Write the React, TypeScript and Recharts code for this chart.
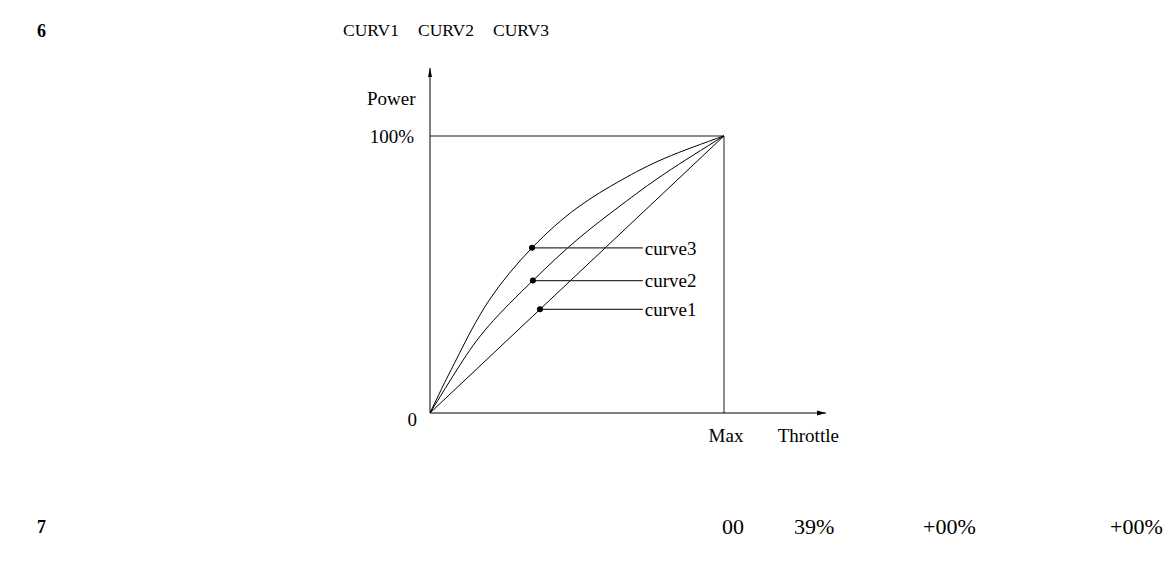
import React from 'react';
import { LineChart, Line, XAxis, YAxis, ReferenceLine, ReferenceDot } from 'recharts';

// throttle (x) vs power (y); 100 = Max / 100%
const curve1X = [0, 100];
const curve1Y = [0, 100];
const curve2X = [0, 10, 20, 35, 50, 65, 80, 100];
const curve2Y = [0, 17, 31.5, 47.8, 62.5, 75, 86.5, 100];
const curve3X = [0, 5, 10, 20, 34.7, 50, 65, 80, 100];
const curve3Y = [0, 11, 21.5, 40.5, 59.6, 74, 84, 92, 100];

// label markers on each curve
const markerNames = ['curve1', 'curve2', 'curve3'];
const markerX = [37.4, 35.0, 34.7];
const markerY = [37.4, 47.8, 59.6];
const leaderEndX = 72.4;

const xTicks = [100, 128];
const xTickLabels = ['Max', 'Throttle'];
const yTicks = [0, 100];
const yTickLabels = ['0', '100%'];

const headerTitles = ['CURV1', 'CURV2', 'CURV3'];
const footerValues = ['00', '39%', '+00%', '+00%'];

const X_MAX = 134.7;
const Y_MAX = 124.5;
const FONT = '"Liberation Serif", "Times New Roman", serif';

const toPoints = (xs: number[], ys: number[]) => xs.map((x, i) => ({ x, y: ys[i] }));

const XTick = (props: any) => {
  const { x, y, payload } = props;
  const idx = xTicks.indexOf(payload.value);
  return (
    <text x={x + 2} y={y} dy={27} textAnchor="middle" fontSize={19} fill="#000">
      {xTickLabels[idx]}
    </text>
  );
};

const YTick = (props: any) => {
  const { x, y, payload } = props;
  const idx = yTicks.indexOf(payload.value);
  return (
    <text x={x - (payload.value === 0 ? 11 : 14)} y={y} dy={payload.value === 0 ? 13 : 7} textAnchor="end" fontSize={19} fill="#000">
      {yTickLabels[idx]}
    </text>
  );
};

const ArrowRight = (props: any) => (
  <path d={`M${props.cx} ${props.cy} l-9 -2.5 l0 5 z`} fill="#000" />
);
const ArrowUp = (props: any) => (
  <path d={`M${props.cx} ${props.cy} l-2 9 l4 0 z`} fill="#000" />
);

const textStyle = (left: number, centerY: number, size: number, bold = false): React.CSSProperties => ({
  position: 'absolute',
  left,
  top: centerY - size / 2,
  fontSize: size,
  lineHeight: 1,
  fontWeight: bold ? 'bold' : 'normal',
  whiteSpace: 'nowrap',
});

const headerLeft = [343, 418, 493];
const footerLeft = [722, 794, 923, 1110];

export default function App() {
  return (
    <div style={{ position: 'absolute', left: 0, top: 0, width: 1176, height: 563, background: '#fff', fontFamily: FONT, color: '#000' }}>
      <div style={textStyle(37, 31, 18, true)}>6</div>
      {headerTitles.map((t, i) => (
        <div key={t} style={textStyle(headerLeft[i], 31, 17.5)}>{t}</div>
      ))}
      <div style={textStyle(367, 98, 19)}>Power</div>
      <div style={textStyle(37, 527, 18, true)}>7</div>
      {footerValues.map((t, i) => (
        <div key={i} style={textStyle(footerLeft[i], 527, 22)}>{t}</div>
      ))}

      <div style={{ position: 'absolute', left: 0, top: 0 }}>
        <LineChart width={1176} height={563} margin={{ top: 68, right: 350, bottom: 120, left: 370 }}>
          <XAxis
            type="number"
            dataKey="x"
            domain={[0, X_MAX]}
            ticks={xTicks}
            tick={<XTick />}
            tickLine={false}
            tickSize={0}
            height={30}
            axisLine={{ stroke: '#000', strokeWidth: 1 }}
            allowDataOverflow
          />
          <YAxis
            type="number"
            dataKey="y"
            domain={[0, Y_MAX]}
            ticks={yTicks}
            tick={<YTick />}
            tickLine={false}
            tickSize={0}
            width={60}
            axisLine={{ stroke: '#000', strokeWidth: 1 }}
            allowDataOverflow
          />
          <ReferenceLine segment={[{ x: 0, y: 100 }, { x: 100, y: 100 }]} stroke="#666" strokeWidth={1.5} />
          <ReferenceLine segment={[{ x: 100, y: 0 }, { x: 100, y: 100 }]} stroke="#666" strokeWidth={1.5} />
          <Line data={toPoints(curve1X, curve1Y)} dataKey="y" type="linear" stroke="#000" strokeWidth={1} dot={false} activeDot={false} isAnimationActive={false} />
          <Line data={toPoints(curve2X, curve2Y)} dataKey="y" type="natural" stroke="#000" strokeWidth={1} dot={false} activeDot={false} isAnimationActive={false} />
          <Line data={toPoints(curve3X, curve3Y)} dataKey="y" type="natural" stroke="#000" strokeWidth={1} dot={false} activeDot={false} isAnimationActive={false} />
          {markerNames.map((name, i) => (
            <ReferenceLine
              key={name}
              segment={[{ x: markerX[i], y: markerY[i] }, { x: leaderEndX, y: markerY[i] }]}
              stroke="#333"
              strokeWidth={1.2}
              label={{ value: name, position: 'right', offset: 2, fontSize: 19, fill: '#000' }}
            />
          ))}
          {markerNames.map((name, i) => (
            <ReferenceDot key={name + '-dot'} x={markerX[i]} y={markerY[i]} r={3} fill="#000" stroke="none" />
          ))}
          <ReferenceDot x={X_MAX} y={0} shape={<ArrowRight />} />
          <ReferenceDot x={0} y={Y_MAX} shape={<ArrowUp />} />
        </LineChart>
      </div>
    </div>
  );
}
